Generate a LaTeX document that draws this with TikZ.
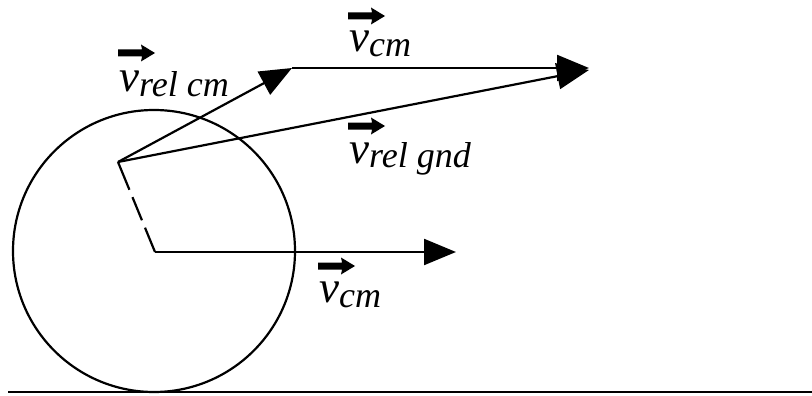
\documentclass[tikz,border=0pt]{standalone}
\usepackage{fontspec}
\setmainfont{Liberation Serif}
\newfontfamily\tnr{Liberation Serif Italic}
\usetikzlibrary{arrows.meta}
\newcommand\vlab[1]{{\tnr\fontsize{45}{45}\selectfont v\raisebox{-5pt}{\tnr\fontsize{36}{36}\selectfont #1}}}
\tikzset{
  vec/.style={line width=2.2pt, -{Triangle[length=32pt,width=26pt]}},
  thinline/.style={line width=2.2pt},
  vecmark/.pic={\fill (0,-3.5) -- (24,-3.5) -- (23,-8.5) -- (37,0) -- (23,8.5) -- (24,3.5) -- (0,3.5) -- cycle;},
  lab/.style={anchor=base west, inner sep=0pt}
}
\begin{document}
\begin{tikzpicture}[x=1pt,y=-1pt]
\useasboundingbox (0,0) rectangle (812,396);
\coordinate (C) at (155,252);
\coordinate (P) at (118,162);
\coordinate (Q) at (292,68);
\coordinate (T) at (589,68);
\coordinate (T2) at (589,70);
\coordinate (E) at (456,252);
\coordinate (G1) at (8,392);
\coordinate (G2) at (812,392);
\node[circle, draw, thinline, minimum size=282pt, inner sep=0pt] (wheel) at (154,251) {};
\draw[line width=2.6pt] (G1) -- (G2);
\draw[vec] (C) -- (E);
\draw[vec] (P) -- (Q);
\draw[vec] (Q) -- (T);
\draw[vec] (P) -- (T2);
\draw[thinline, dash pattern=on 30pt off 8pt on 25pt off 8pt on 40pt] (P) -- (C);
\pic (m1) at (118,53) {vecmark};
\pic (m2) at (348,16) {vecmark};
\pic (m3) at (348,126) {vecmark};
\pic (m4) at (318,266) {vecmark};
\node[lab] (l1) at (119,92) {\vlab{rel cm}};
\node[lab] (l2) at (349,52) {\vlab{cm}};
\node[lab] (l3) at (349,163) {\vlab{rel gnd}};
\node[lab] (l4) at (319,302) {\vlab{cm}};
\end{tikzpicture}
\end{document}
